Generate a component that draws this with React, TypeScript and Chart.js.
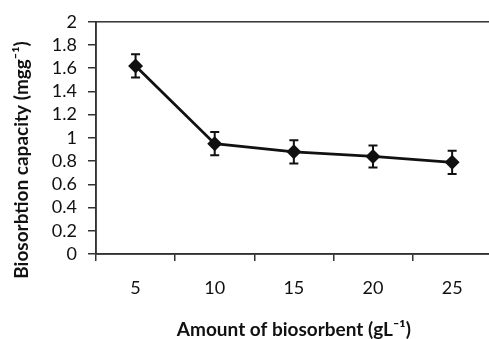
import React, { useEffect, useRef } from "react";
import { Chart, registerables } from "chart.js";

Chart.register(...registerables);

const categories = ["5", "10", "15", "20", "25"];
const capacity = [1.62, 0.95, 0.88, 0.84, 0.79];
const errors = [0.1, 0.1, 0.1, 0.095, 0.1];
const yTicks = [0, 0.2, 0.4, 0.6, 0.8, 1, 1.2, 1.4, 1.6, 1.8, 2];
const yTitle = "Biosorbtion capacity (mgg\u207B\u00B9)";
const xTitle = "Amount of biosorbent (gL\u207B\u00B9)";

const INK = "#111111";

const errorBarPlugin = {
  id: "errorBars",
  afterDatasetsDraw(chart: any) {
    const ctx = chart.ctx;
    const x = chart.scales.x;
    const y = chart.scales.y;
    ctx.save();
    ctx.strokeStyle = INK;
    ctx.lineWidth = 2;
    capacity.forEach((v, i) => {
      const px = x.getPixelForValue(i);
      const top = y.getPixelForValue(v + errors[i]);
      const bot = y.getPixelForValue(v - errors[i]);
      ctx.beginPath();
      ctx.moveTo(px, top);
      ctx.lineTo(px, bot);
      ctx.moveTo(px - 4.5, top);
      ctx.lineTo(px + 4.5, top);
      ctx.moveTo(px - 4.5, bot);
      ctx.lineTo(px + 4.5, bot);
      ctx.stroke();
    });
    ctx.restore();
  },
};

const boxPlugin = {
  id: "boxFrame",
  beforeDatasetsDraw(chart: any) {
    const { ctx, chartArea } = chart;
    ctx.save();
    ctx.strokeStyle = "#333333";
    ctx.lineWidth = 1.5;
    ctx.strokeRect(chartArea.left, chartArea.top, chartArea.right - chartArea.left, chartArea.bottom - chartArea.top);
    ctx.restore();
  },
};

const yTitlePlugin = {
  id: "yTitle",
  afterDraw(chart: any) {
    const ctx = chart.ctx;
    ctx.save();
    ctx.translate(22, 160);
    ctx.rotate(-Math.PI / 2);
    ctx.fillStyle = INK;
    ctx.font = "bold 19px Lato";
    ctx.textAlign = "center";
    ctx.textBaseline = "middle";
    ctx.fillText(yTitle, 0, 0);
    ctx.restore();
  },
};

export default function App() {
  const ref = useRef<HTMLCanvasElement>(null);
  useEffect(() => {
    if (!ref.current) return;
    const chart = new Chart(ref.current, {
      type: "line",
      data: {
        labels: categories,
        datasets: [
          {
            data: capacity,
            borderColor: INK,
            backgroundColor: INK,
            borderWidth: 2.8,
            pointStyle: "rectRot",
            pointRadius: 5.5,
            pointBackgroundColor: INK,
            pointBorderColor: INK,
            tension: 0,
          },
        ],
      },
      options: {
        responsive: false,
        animation: false,
        layout: { padding: { top: 19, right: 4, left: 0, bottom: 0 } },
        plugins: { legend: { display: false }, tooltip: { enabled: false } },
        scales: {
          x: {
            type: "category",
            offset: true,
            grid: { offset: true, drawOnChartArea: false, drawTicks: true, tickLength: 7, color: "#333333", lineWidth: 1.5 },
            border: { display: true, color: "#333333", width: 1.5 },
            ticks: { color: INK, font: { family: "Lato", size: 18 }, padding: 16, autoSkip: false, maxRotation: 0 },
            title: {
              display: true,
              text: xTitle,
              color: INK,
              font: { family: "Lato", size: 19, weight: "bold" },
              padding: { top: 0, bottom: -2 },
            },
            afterFit(scale: any) {
              scale.height = 85;
            },
          },
          y: {
            min: 0,
            max: 2,
            afterBuildTicks(scale: any) {
              scale.ticks = yTicks.map((v) => ({ value: v }));
            },
            grid: { drawOnChartArea: false, drawTicks: true, tickLength: 8, color: "#333333", lineWidth: 1.5 },
            border: { display: true, color: "#333333", width: 1.5 },
            ticks: {
              color: INK,
              font: { family: "Lato", size: 18 },
              padding: 11,
              autoSkip: false,
              callback: (v: any) => String(Math.round(Number(v) * 10) / 10),
            },
            title: { display: false },
            afterFit(scale: any) {
              scale.width = 96;
            },
          },
        },
      },
      plugins: [boxPlugin, errorBarPlugin, yTitlePlugin],
    });
    return () => chart.destroy();
  }, []);
  return (
    <div style={{ position: "absolute", left: 0, top: 0, width: 489, height: 339, overflow: "hidden", background: "#fff" }}>
      <canvas ref={ref} width={500} height={339} style={{ display: "block" }} />
    </div>
  );
}
